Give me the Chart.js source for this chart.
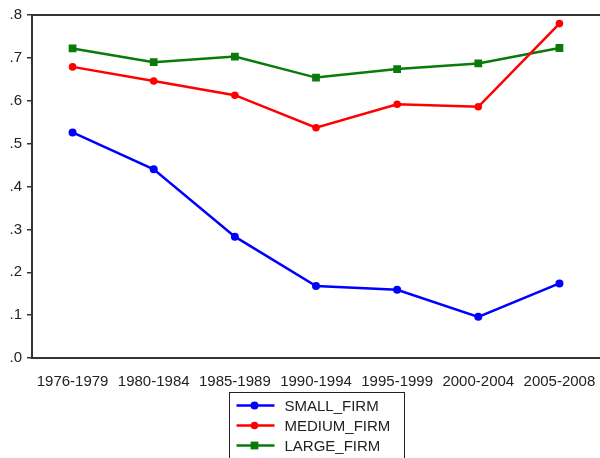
<!DOCTYPE html>
<html>
<head>
<meta charset="utf-8">
<script src="https://cdn.jsdelivr.net/npm/chart.js@4.4.0/dist/chart.umd.min.js"></script>
<style>
html, body { margin: 0; padding: 0; background: #fff; }
</style>
</head>
<body>
<canvas id="firmChart" width="600" height="458"></canvas>
<script>
// Data
const periods = ['1976-1979', '1980-1984', '1985-1989', '1990-1994', '1995-1999', '2000-2004', '2005-2008'];
const smallFirm = [0.526, 0.440, 0.283, 0.168, 0.159, 0.096, 0.174];
const mediumFirm = [0.679, 0.646, 0.613, 0.537, 0.592, 0.586, 0.780];
const largeFirm = [0.722, 0.690, 0.703, 0.654, 0.674, 0.687, 0.723];
const yTicks = [0, 0.1, 0.2, 0.3, 0.4, 0.5, 0.6, 0.7, 0.8];

const FONT = '"Liberation Sans", Arial, sans-serif';

// Top frame line + boxed legend at the bottom
const framePlugin = {
    id: 'frame',
    afterDraw(chart) {
        const { ctx, chartArea: a } = chart;
        ctx.save();
        ctx.strokeStyle = '#333';
        ctx.lineWidth = 2;
        ctx.beginPath();
        ctx.moveTo(a.left, a.top);
        ctx.lineTo(a.right, a.top);
        ctx.stroke();

        // legend box, centred under the plot area
        const boxW = 175;
        const boxX = Math.round((a.left + a.right) / 2 - boxW / 2) + 0.5;
        const boxY = 392.5;
        ctx.lineWidth = 1;
        ctx.strokeStyle = '#222';
        ctx.strokeRect(boxX, boxY, boxW, 80);

        ctx.font = '15px ' + FONT;
        ctx.textBaseline = 'middle';
        chart.data.datasets.forEach((ds, i) => {
            const y = boxY + 13 + i * 20;
            ctx.strokeStyle = ds.borderColor;
            ctx.lineWidth = ds.borderWidth;
            ctx.beginPath();
            ctx.moveTo(boxX + 7, y);
            ctx.lineTo(boxX + 45, y);
            ctx.stroke();
            ctx.fillStyle = ds.backgroundColor;
            Chart.helpers.drawPoint(ctx, { pointStyle: ds.pointStyle, radius: ds.pointRadius, rotation: 0, borderWidth: 0 }, boxX + 25, y);
            ctx.fillStyle = '#222';
            ctx.fillText(ds.label, boxX + 55, y + 1);
        });
        ctx.restore();
    }
};

const ctx = document.getElementById('firmChart').getContext('2d');
new Chart(ctx, {
    type: 'line',
    data: {
        labels: periods,
        datasets: [
            {
                label: 'SMALL_FIRM',
                data: smallFirm,
                borderColor: '#0000ff',
                backgroundColor: '#0000ff',
                borderWidth: 2.5,
                pointStyle: 'circle',
                pointRadius: 4,
                pointBorderWidth: 0,
                order: 3
            },
            {
                label: 'MEDIUM_FIRM',
                data: mediumFirm,
                borderColor: '#ff0000',
                backgroundColor: '#ff0000',
                borderWidth: 2.5,
                pointStyle: 'circle',
                pointRadius: 3.8,
                pointBorderWidth: 0,
                order: 1
            },
            {
                label: 'LARGE_FIRM',
                data: largeFirm,
                borderColor: '#0a7a0a',
                backgroundColor: '#0a7a0a',
                borderWidth: 2.5,
                pointStyle: 'rect',
                pointRadius: 5.5,
                pointBorderWidth: 0,
                order: 2
            }
        ]
    },
    options: {
        responsive: false,
        animation: false,
        layout: { autoPadding: false, padding: { top: 15, right: -2, left: 0, bottom: 66 } },
        plugins: {
            legend: { display: false },
            tooltip: { enabled: false }
        },
        scales: {
            x: {
                offset: true,
                grid: { display: false },
                border: { display: true, color: '#333', width: 2 },
                ticks: {
                    font: { size: 15, family: FONT },
                    color: '#222',
                    padding: 7,
                    maxRotation: 0,
                    autoSkip: false
                },
                afterFit(scale) {
                    scale.height = 34;
                    scale.paddingLeft = 0;
                    scale.paddingRight = 0;
                }
            },
            y: {
                min: 0,
                max: 0.8,
                afterBuildTicks(scale) { scale.ticks = yTicks.map(v => ({ value: v })); },
                grid: { drawOnChartArea: false, drawTicks: true, tickLength: 5, color: '#333', lineWidth: 1.5 },
                border: { display: true, color: '#333', width: 2 },
                ticks: {
                    font: { size: 15, family: FONT },
                    color: '#222',
                    padding: 5,
                    callback: v => v.toFixed(1).replace(/^0/, '')
                },
                afterFit(scale) {
                    scale.width = 32;
                    scale.paddingTop = 0;
                    scale.paddingBottom = 0;
                }
            }
        }
    },
    plugins: [framePlugin]
});
</script>
</body>
</html>
